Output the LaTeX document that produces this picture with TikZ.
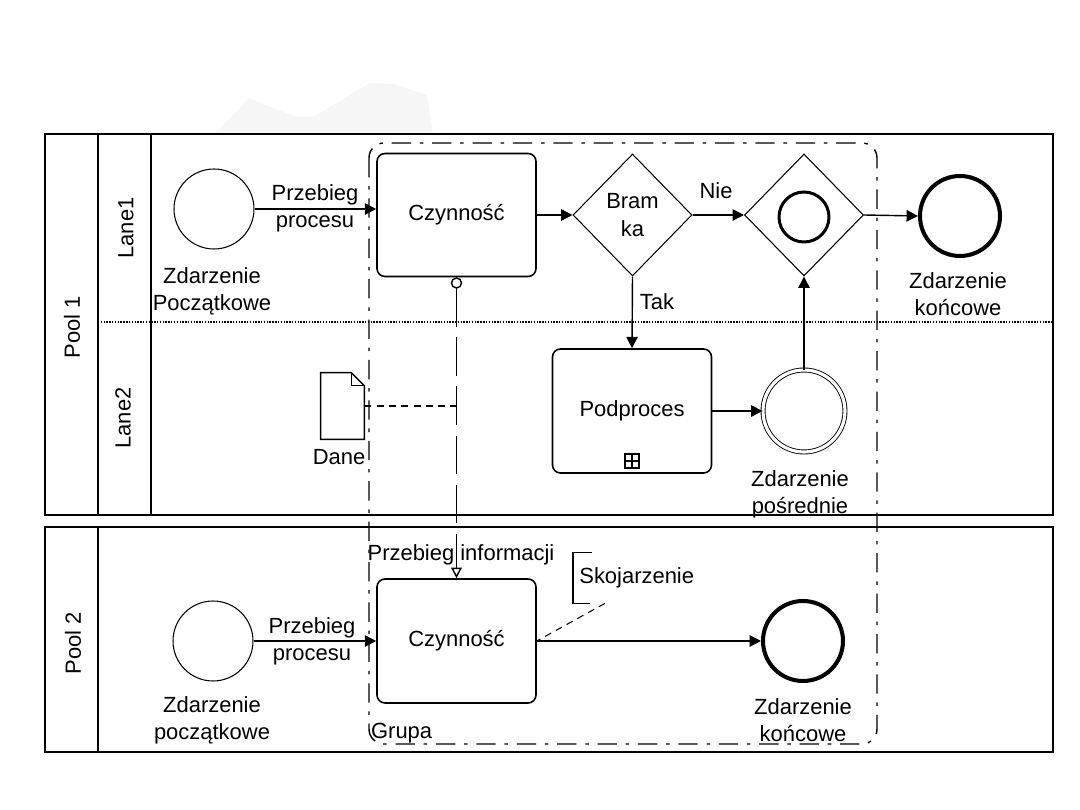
\documentclass[tikz,border=0pt]{standalone}
\usepackage{fontspec}
\setmainfont{Liberation Sans}
\usetikzlibrary{arrows.meta,shapes.geometric}
\begin{document}
\begin{tikzpicture}[x=0.02cm,y=-0.02cm,
  font=\fontsize{12.5}{15.5}\selectfont,
  pool/.style={line width=1.7pt},
  task/.style={draw, rounded corners=4.5pt, line width=0.9pt, minimum width=159*0.2mm, minimum height=123*0.2mm, align=center},
  gate/.style={draw, diamond, line width=0.6pt, inner sep=0pt, minimum width=119*0.2mm, minimum height=122*0.2mm, align=center},
  startev/.style={draw, circle, line width=0.6pt, minimum size=80*0.2mm, inner sep=0pt},
  endev/.style={draw, circle, line width=2.3pt, minimum size=80*0.2mm, inner sep=0pt},
  midev/.style={draw, circle, double, double distance=1.8pt, line width=0.5pt, minimum size=82*0.2mm, inner sep=0pt},
  flow/.style={-{Triangle[length=6.5pt,width=6.5pt]}, line width=0.8pt},
  msg/.style={{Circle[open,length=6.5pt,width=6.5pt]}-{Triangle[open,length=6pt,width=6pt]}, line width=0.8pt, dash pattern=on 22pt off 6pt},
  assoc/.style={line width=0.6pt, dash pattern=on 4pt off 3pt},
  grp/.style={line width=0.8pt, rounded corners=8.5pt, dash pattern=on 11pt off 5pt on 2pt off 5pt},
  lbl/.style={align=center, inner sep=1pt},
  sidelbl/.style={rotate=90, inner sep=1pt}
]
\useasboundingbox (0,0) rectangle (1080,810);
% faint background watermark
\fill[gray!7] (215,134) -- (249,98) -- (278,110) -- (297,117) -- (313,117) -- (370,83) -- (393,84) -- (427,95) -- (433,134) -- cycle;

% pools
\draw[pool] (45,134) rectangle (1053,515);
\draw[pool] (98,134) -- (98,515);
\draw[pool] (151,134) -- (151,515);
\draw[line width=0.6pt, dash pattern=on 0.8pt off 0.8pt] (98,322) -- (1053,322);
\draw[pool] (45,527) rectangle (1053,752);
\draw[pool] (98,527) -- (98,752);
\node[sidelbl] (p1) at (72,327) {Pool 1};
\node[sidelbl] (l1) at (126,228) {Lane1};
\node[sidelbl] (l2) at (123,418) {Lane2};
\node[sidelbl] (p2) at (73,643) {Pool 2};

% group
\draw[grp] (369,143) rectangle (877,744);
\node[lbl, anchor=west] (grupa) at (369,733) {Grupa};

% pool 1 elements
\node[startev] (s1) at (214,209) {};
\node[lbl] (s1l) at (212,291) {Zdarzenie\\Początkowe};
\node[task] (t1) at (456.5,215) {Czynność};
\node[gate] (g1) at (632.5,215) {Bram\\ka};
\node[gate] (g2) at (804,215) {};
\node[circle, draw, line width=1.7pt, minimum size=50*0.2mm, inner sep=0pt] (g2in) at (804,217) {};
\node[endev] (e1) at (960,216) {};
\node[lbl] (e1l) at (958,294) {Zdarzenie\\końcowe};
\node[task, minimum height=124*0.2mm] (sub) at (632,411) {Podproces};
\node[draw, line width=0.6pt, minimum size=14*0.2mm, inner sep=0pt] (plus) at (632,461) {};
\draw[line width=0.6pt] (plus.north) -- (plus.south) (plus.west) -- (plus.east);
\node[midev] (im) at (804,411) {};
\node[lbl] (iml) at (800,494) {Zdarzenie\\pośrednie};

\draw[flow] (s1.east) -- (s1.east -| t1.west);
\node[lbl] (f1l) at (315,208) {Przebieg\\procesu};
\draw[flow] (t1.east) -- (g1.west);
\draw[flow] (g1.east) -- (g2.west);
\node[lbl] (nie) at (716,191) {Nie};
\draw[flow] (g2.east) -- (e1.west);
\draw[flow] (g1.south) -- (sub.north);
\node[lbl] (tak) at (657,302) {Tak};
\draw[flow] (sub.east) -- (im.west);
\draw[flow] (im.north) -- (g2.south);

% data object
\node[minimum width=43*0.2mm, minimum height=66*0.2mm, inner sep=0pt] (dane) at (342.5,406) {};
\draw[line width=0.8pt] (dane.north west) -- ([xshift=-13*0.2mm]dane.north east) -- ([yshift=-13*0.2mm]dane.north east) -- (dane.south east) -- (dane.south west) -- cycle;
\draw[line width=0.6pt] ([xshift=-13*0.2mm]dane.north east) |- ([yshift=-13*0.2mm]dane.north east);
\node[lbl] (danel) at (339,457) {Dane};

% pool 2 elements
\node[startev] (s2) at (213,641) {};
\node[lbl] (s2l) at (212,720) {Zdarzenie\\początkowe};
\node[task, minimum height=124*0.2mm] (t2) at (456.5,641) {Czynność};
\node[endev] (e2) at (803,641) {};
\node[lbl] (e2l) at (803,720) {Zdarzenie\\końcowe};
\draw[flow] (s2.east) -- (s2.east -| t2.west);
\node[lbl] (f2l) at (312,641) {Przebieg\\procesu};
\draw[flow] (t2.east) -- (e2.west);

% message flow
\draw[msg] (t1.south) -- (t2.north);
\node[lbl] (msgl) at (461,555) {Przebieg informacji};
\draw[assoc] (dane.east) -- (dane.east -| t1.south);

% annotation
\node[anchor=west, inner xsep=6*0.2mm, inner ysep=0pt, minimum height=50*0.2mm] (sko) at (573,578) {Skojarzenie};
\draw[line width=0.8pt] ([xshift=19*0.2mm]sko.north west) -- (sko.north west) -- (sko.south west) -- ([xshift=17*0.2mm]sko.south west);
\draw[assoc] ([xshift=32*0.2mm]sko.south west) -- (t2.east);
\end{tikzpicture}
\end{document}
